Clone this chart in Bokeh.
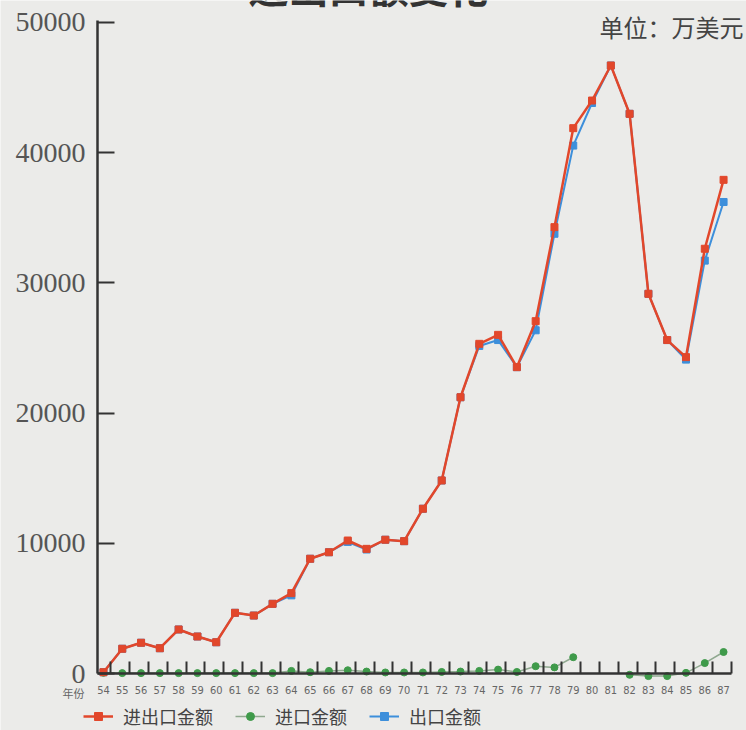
from bokeh.plotting import figure
from bokeh.models import FixedTicker, Legend, LegendItem, Label, Range1d
from bokeh.embed import file_html
from bokeh.resources import INLINE

years = list(range(54, 88))
total = [100, 1900, 2360, 1940, 3380, 2840, 2400, 4660, 4450, 5350,
         6170, 8810, 9310, 10210, 9570, 10270, 10160, 12650, 14820, 21210,
         25310, 26000, 23520, 27050, 34270, 41870, 43990, 46680, 42970, 29150,
         25600, 24290, 32610, 37900]
exports = [100, 1900, 2360, 1940, 3380, 2840, 2400, 4660, 4450, 5350,
           6000, 8810, 9310, 10100, 9520, 10270, 10160, 12650, 14820, 21210,
           25150, 25600, 23520, 26350, 33760, 40530, 43800, 46680, 42970, 29150,
           25600, 24100, 31700, 36200]
nan = float("nan")
imports = [50, 30, 30, 30, 30, 30, 30, 30, 30, 30,
           200, 100, 200, 250, 150, 80, 80, 80, 120, 150,
           200, 300, 120, 560, 470, 1250, nan, nan, -100, -200,
           -200, 50, 800, 1650]
y_ticks = [0, 10000, 20000, 30000, 40000, 50000]

BG = "#ebebe9"
RED = "#e2472b"
GREEN = "#3f9a4a"
GREEN_LINE = "#8fa88f"
BLUE = "#3d8fdb"
AXIS = "#333333"
NARROW = "'DejaVu Sans Condensed', 'Roboto', sans-serif"

X0, X1 = 53.68, 87.43      # extent of the drawn x axis
YTOP = 50150               # top of the drawn y axis

p = figure(width=746, height=730, output_backend="svg", toolbar_location=None,
           x_range=Range1d(48.52, 88.22), y_range=Range1d(-4376, 51670),
           min_border=0, min_border_left=0, min_border_right=0,
           min_border_top=0, min_border_bottom=0)
p.background_fill_color = BG
p.border_fill_color = BG
p.outline_line_color = None
p.grid.visible = False

# y axis
p.yaxis.fixed_location = X0
p.yaxis.bounds = (0, YTOP)
p.yaxis.ticker = FixedTicker(ticks=y_ticks)
p.yaxis.major_tick_in = 17
p.yaxis.major_tick_out = 0
p.yaxis.minor_tick_in = 0
p.yaxis.minor_tick_out = 0
p.yaxis.major_tick_line_width = 2
p.yaxis.major_tick_line_color = AXIS
p.yaxis.axis_line_width = 2.5
p.yaxis.axis_line_color = AXIS
p.yaxis.major_label_text_font = "Liberation Serif"
p.yaxis.major_label_text_font_size = "28px"
p.yaxis.major_label_text_color = "#555555"
p.yaxis.major_label_standoff = 12

# x axis
p.xaxis.fixed_location = 0
p.xaxis.bounds = (X0, X1)
p.xaxis.ticker = FixedTicker(ticks=years,
                             minor_ticks=[y + 0.4 for y in years[:-1]] + [X1 - 0.01])
p.xaxis.major_tick_in = 0
p.xaxis.major_tick_out = 0
p.xaxis.minor_tick_in = 12
p.xaxis.minor_tick_out = 0
p.xaxis.minor_tick_line_width = 2
p.xaxis.minor_tick_line_color = AXIS
p.xaxis.axis_line_width = 2.5
p.xaxis.axis_line_color = AXIS
p.xaxis.major_label_text_font = NARROW
p.xaxis.major_label_text_font_size = "11px"
p.xaxis.major_label_text_color = "#666666"
p.xaxis.major_label_standoff = 12

# series
bl = p.line(years, exports, line_color=BLUE, line_width=2)
bs = p.scatter(years, exports, marker="square", size=7, fill_color=BLUE, line_color=BLUE)
gl = p.line(years, imports, line_color=GREEN_LINE, line_width=1.5)
gs = p.scatter(years, imports, marker="circle", size=7, fill_color=GREEN, line_color=GREEN)
rl = p.line(years, total, line_color=RED, line_width=2.5)
rs = p.scatter(years, total, marker="square", size=7, fill_color=RED, line_color=RED)

legend = Legend(items=[
    LegendItem(label="进出口金额", renderers=[rl, rs]),
    LegendItem(label="进口金额", renderers=[gl, gs]),
    LegendItem(label="出口金额", renderers=[bl, bs]),
], orientation="horizontal", location=(83, 1),
    label_text_font="Noto Sans CJK SC", label_text_font_size="18px",
    label_text_color="#444444", glyph_width=30, glyph_height=20,
    label_standoff=10, spacing=22, padding=0, margin=0,
    background_fill_alpha=0, border_line_color=None)
p.add_layout(legend)

# the title sits above the top edge of the picture: only its lower part shows
title = Label(x=68.1, y=52783, text="进出口额变化", text_align="center",
              text_baseline="alphabetic", text_font="Noto Sans CJK SC",
              text_font_size="40px", text_font_style="bold", text_color="#333333")
p.add_layout(title)

unit = Label(x=88.06, y=49674, text="单位：万美元", text_align="right",
             text_baseline="middle", text_font="Noto Sans CJK SC",
             text_font_size="24px", text_color="#444444")
p.add_layout(unit)

yearlab = Label(x=51.82, y=-1459, text="年份", text_align="left",
                text_baseline="middle", text_font="Noto Sans CJK SC",
                text_font_size="11px", text_color="#666666")
p.add_layout(yearlab)

open("out.html", "w").write(file_html(p, INLINE))
